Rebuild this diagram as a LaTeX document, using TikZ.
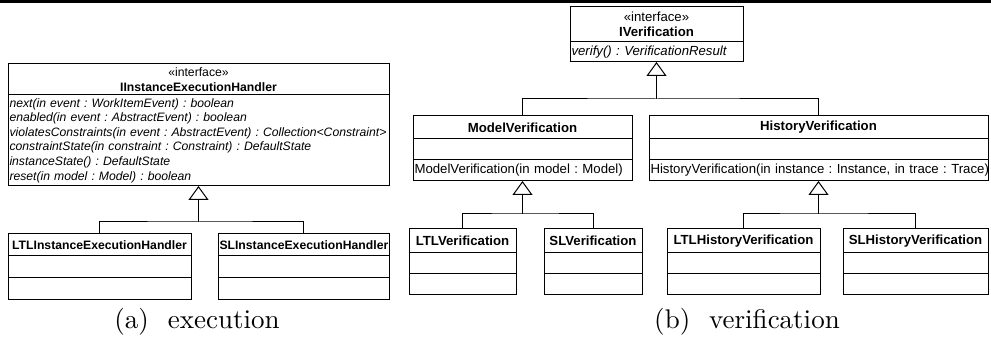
\documentclass[tikz,border=0pt]{standalone}
\usepackage{fontspec}
\newfontfamily\umlfont{Liberation Sans}
\newfontfamily\capfont{lmroman10-regular.otf}
\usetikzlibrary{arrows.meta,calc,positioning}
\newcommand\sizeexec{\fontsize{12.2}{14.6}\selectfont}
\newcommand\sizeverif{\fontsize{13.2}{15}\selectfont}
\AtBeginDocument{\frenchspacing}
\tikzset{
  umlbox/.style={
    draw=black,
    line width=1pt,
    inner sep=1.5pt,
    outer sep=0pt
  },
  headbox/.style={
    umlbox,
    anchor=north west,
    align=center,
    font=\umlfont#1\bfseries
  },
  partbox/.style={
    umlbox,
    align=left,
    font=\umlfont#1\itshape
  },
  gen/.style={
    -{Triangle[open,length=14pt,width=20pt,line width=1pt]},
    line width=1.6pt
  },
  link/.style={line width=1pt},
  caption/.style={font=\capfont\fontsize{27}{30}\selectfont}
}

\begin{document}
\begin{tikzpicture}[x=1pt,y=-1pt]
  \useasboundingbox (0,0) rectangle (991,344);
  \draw[line width=3pt] (0,1.5) -- (991,1.5);

  % (a) execution
  \node[headbox=\sizeexec, minimum width=381pt, minimum height=31pt] (ieh) at (8,64)
    {{\mdseries «interface»}\\IInstanceExecutionHandler};
  \node[partbox=\sizeexec, text width=378pt, minimum height=91pt, below=0pt of ieh] (iehops)
    {next(in event : WorkItemEvent) : boolean\\
     enabled(in event : AbstractEvent) : boolean\\
     violatesConstraints(in event : AbstractEvent) : Collection<Constraint>\\
     constraintState(in constraint : Constraint) : DefaultState\\
     instanceState() : DefaultState\\
     reset(in model : Model) : boolean};

  \node[headbox=\sizeexec, minimum width=183pt, minimum height=22pt] (ltl) at (8,234)
    {LTLInstanceExecutionHandler};
  \node[umlbox, minimum width=183pt, minimum height=22pt, below=0pt of ltl] (ltlattr) {};
  \node[umlbox, minimum width=183pt, minimum height=22pt, below=0pt of ltlattr] (ltlops) {};

  \node[headbox=\sizeexec, minimum width=171pt, minimum height=22pt] (sl) at (218,234)
    {SLInstanceExecutionHandler};
  \node[umlbox, minimum width=171pt, minimum height=22pt, below=0pt of sl] (slattr) {};
  \node[umlbox, minimum width=171pt, minimum height=22pt, below=0pt of slattr] (slops) {};

  \coordinate (ja) at ($(iehops.south)+(0,36)$);
  \draw[link] (ltl.north) |- (ja) -| (sl.north);
  \draw[gen] (ja) -- (iehops.south);

  \node[caption] (capa) at (197,322) {(a)\hspace{0.7em}execution};

  % (b) verification
  \node[headbox=\sizeverif, minimum width=173pt, minimum height=35pt] (iv) at (570,7)
    {{\mdseries «interface»}\\IVerification};
  \node[partbox=\sizeverif, text width=170pt, minimum height=20pt, below=0pt of iv] (ivops)
    {verify() : VerificationResult};

  \node[headbox=\sizeverif, minimum width=219pt, minimum height=23pt] (mv) at (413,116)
    {ModelVerification};
  \node[umlbox, minimum width=219pt, minimum height=21pt, below=0pt of mv] (mvattr) {};
  \node[partbox=\sizeverif, text width=216pt, minimum height=21pt, below=0pt of mvattr] (mvops)
    {\upshape ModelVerification(in model : Model)};

  \node[headbox=\sizeverif, minimum width=339pt, minimum height=23pt] (hv) at (649,116)
    {HistoryVerification};
  \node[umlbox, minimum width=339pt, minimum height=21pt, below=0pt of hv] (hvattr) {};
  \node[partbox=\sizeverif, text width=336pt, minimum height=21pt, below=0pt of hvattr] (hvops)
    {\upshape\mbox{HistoryVerification(in instance : Instance, in trace : Trace)}};

  \node[headbox=\sizeverif, minimum width=107pt, minimum height=24pt] (ltlv) at (409,229)
    {LTLVerification};
  \node[umlbox, minimum width=107pt, minimum height=21pt, below=0pt of ltlv] (ltlvattr) {};
  \node[umlbox, minimum width=107pt, minimum height=21pt, below=0pt of ltlvattr] (ltlvops) {};

  \node[headbox=\sizeverif, minimum width=98pt, minimum height=24pt] (slv) at (544,229)
    {SLVerification};
  \node[umlbox, minimum width=98pt, minimum height=21pt, below=0pt of slv] (slvattr) {};
  \node[umlbox, minimum width=98pt, minimum height=21pt, below=0pt of slvattr] (slvops) {};

  \node[headbox=\sizeverif, minimum width=153pt, minimum height=24pt] (ltlhv) at (667,229)
    {LTLHistoryVerification};
  \node[umlbox, minimum width=153pt, minimum height=21pt, below=0pt of ltlhv] (ltlhvattr) {};
  \node[umlbox, minimum width=153pt, minimum height=21pt, below=0pt of ltlhvattr] (ltlhvops) {};

  \node[headbox=\sizeverif, minimum width=145pt, minimum height=24pt] (slhv) at (843,229)
    {SLHistoryVerification};
  \node[umlbox, minimum width=145pt, minimum height=21pt, below=0pt of slhv] (slhvattr) {};
  \node[umlbox, minimum width=145pt, minimum height=21pt, below=0pt of slhvattr] (slhvops) {};

  \coordinate (jb) at ($(ivops.south)+(0,37)$);
  \draw[link] (mv.north) |- (jb) -| (hv.north);
  \draw[gen] (jb) -- (ivops.south);

  \coordinate (jm) at ($(mvops.south)+(0,33)$);
  \draw[link] (ltlv.north) |- (jm) -| (slv.north);
  \draw[gen] (jm) -- (mvops.south);

  \coordinate (jh) at ($(hvops.south)+(0,33)$);
  \draw[link] (ltlhv.north) |- (jh) -| (slhv.north);
  \draw[gen] (jh) -- (hvops.south);

  \node[caption] (capb) at (747,322) {(b)\hspace{0.7em}verification};
\end{tikzpicture}
\end{document}
